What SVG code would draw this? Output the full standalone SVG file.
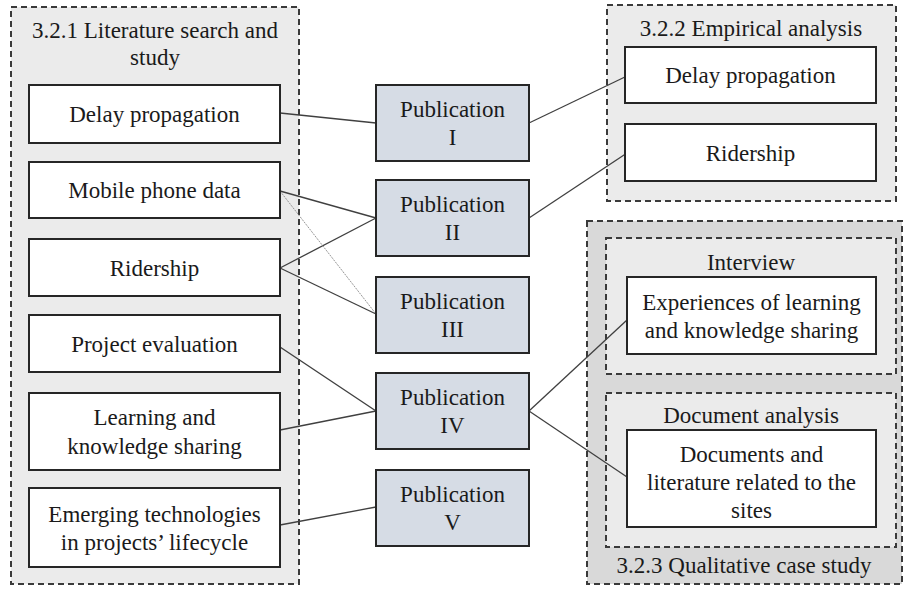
<svg xmlns="http://www.w3.org/2000/svg" width="904" height="589" viewBox="0 0 904 589">
<style>
text{font-family:"Liberation Serif","Times New Roman",serif;font-size:23px;fill:#1a1a1a;text-anchor:middle}
.panel{fill:#ebebeb;stroke:#3a3a3a;stroke-width:2;stroke-dasharray:6 4}
.panel2{fill:#d9d9d9;stroke:#3a3a3a;stroke-width:2;stroke-dasharray:6 4}
.box{fill:#ffffff;stroke:#262626;stroke-width:2}
.pub{fill:#d6dce5;stroke:#262626;stroke-width:2}
.conn{stroke:#404040;stroke-width:1.3;fill:none}
.dot{stroke:#8a8a8a;stroke-width:0.9;fill:none;stroke-dasharray:2 1}
</style>
<rect width="904" height="589" fill="#ffffff"/>
<g id="panel-literature">
<rect class="panel" x="11" y="7" width="288" height="577"/>
<text x="155" y="38">3.2.1 Literature search and</text>
<text x="155" y="65">study</text>
</g>
<g id="panel-empirical">
<rect class="panel" x="607" y="5" width="289" height="196"/>
<text x="751" y="36">3.2.2 Empirical analysis</text>
</g>
<g id="panel-qualitative">
<rect class="panel2" x="587" y="221" width="315" height="363"/>
<text x="744" y="573">3.2.3 Qualitative case study</text>
</g>
<g id="panel-interview">
<rect class="panel" x="606" y="238" width="290" height="136"/>
<text x="751" y="270">Interview</text>
</g>
<g id="panel-document">
<rect class="panel" x="606" y="393" width="290" height="154"/>
<text x="751" y="423">Document analysis</text>
</g>
<g id="connectors">
<line class="conn" x1="280" y1="113" x2="376" y2="123"/>
<line class="conn" x1="280" y1="191" x2="376" y2="218"/>
<line class="conn" x1="280" y1="268" x2="376" y2="218"/>
<line class="conn" x1="280" y1="268" x2="376" y2="314"/>
<line class="dot" x1="280" y1="191" x2="376" y2="314"/>
<line class="conn" x1="280" y1="347" x2="376" y2="411"/>
<line class="conn" x1="280" y1="430" x2="376" y2="411"/>
<line class="conn" x1="280" y1="525" x2="376" y2="507"/>
<line class="conn" x1="529" y1="123" x2="627" y2="76"/>
<line class="conn" x1="529" y1="218" x2="627" y2="153"/>
<line class="conn" x1="529" y1="411" x2="627" y2="320"/>
<line class="conn" x1="529" y1="411" x2="627" y2="477"/>
</g>
<g id="lit-delay"><rect class="box" x="29" y="85" width="251" height="58"/><text x="154.5" y="122">Delay propagation</text></g>
<g id="lit-mobile"><rect class="box" x="29" y="162" width="251" height="56"/><text x="154.5" y="198">Mobile phone data</text></g>
<g id="lit-ridership"><rect class="box" x="29" y="239" width="251" height="57"/><text x="154.5" y="276">Ridership</text></g>
<g id="lit-project"><rect class="box" x="29" y="315" width="251" height="57"/><text x="154.5" y="352">Project evaluation</text></g>
<g id="lit-learning"><rect class="box" x="29" y="393" width="251" height="77"/><text x="154.5" y="425">Learning and</text><text x="154.5" y="454">knowledge sharing</text></g>
<g id="lit-emerging"><rect class="box" x="29" y="488" width="251" height="79"/><text x="154.5" y="522">Emerging technologies</text><text x="154.5" y="550">in projects’ lifecycle</text></g>
<g id="pub1"><rect class="pub" x="376" y="85" width="153" height="76"/><text x="452.5" y="117">Publication</text><text x="452.5" y="145">I</text></g>
<g id="pub2"><rect class="pub" x="376" y="180" width="153" height="76"/><text x="452.5" y="212">Publication</text><text x="452.5" y="240">II</text></g>
<g id="pub3"><rect class="pub" x="376" y="277" width="153" height="76"/><text x="452.5" y="309">Publication</text><text x="452.5" y="337">III</text></g>
<g id="pub4"><rect class="pub" x="376" y="373" width="153" height="76"/><text x="452.5" y="405">Publication</text><text x="452.5" y="433">IV</text></g>
<g id="pub5"><rect class="pub" x="376" y="470" width="153" height="76"/><text x="452.5" y="502">Publication</text><text x="452.5" y="530">V</text></g>
<g id="emp-delay"><rect class="box" x="625" y="47" width="251" height="56"/><text x="750.5" y="83">Delay propagation</text></g>
<g id="emp-ridership"><rect class="box" x="625" y="124" width="251" height="57"/><text x="750.5" y="161">Ridership</text></g>
<g id="int-experiences"><rect class="box" x="627" y="277" width="249" height="77"/><text x="751.5" y="310">Experiences of learning</text><text x="751.5" y="338">and knowledge sharing</text></g>
<g id="doc-documents"><rect class="box" x="627" y="430" width="249" height="97"/><text x="751.5" y="462">Documents and</text><text x="751.5" y="490">literature related to the</text><text x="751.5" y="518">sites</text></g>
</svg>
